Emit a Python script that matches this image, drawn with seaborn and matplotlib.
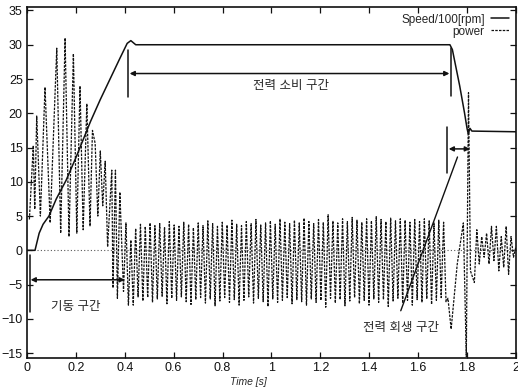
import numpy as np
import pandas as pd
import matplotlib
matplotlib.use('Agg')
import matplotlib.pyplot as plt
import seaborn as sns

# speed / 100 [rpm]
speed_t = [0.0, 0.033, 0.05, 0.066, 0.09, 0.12, 0.16, 0.2, 0.26, 0.3, 0.34, 0.38,
           0.41, 0.425, 0.445, 1.73, 1.74, 1.77, 1.79, 1.80, 1.805, 1.812, 1.82, 2.0]
speed_v = [0.0, 0.0, 2.5, 3.8, 5.0, 7.5, 10.2, 13.5, 18.8, 22.0, 25.0, 28.0,
           30.2, 30.6, 30.0, 30.0, 29.3, 24.0, 20.0, 17.8, 17.0, 17.8, 17.4, 17.3]

# power - start-up part
power_start_t = [0.010, 0.026, 0.032, 0.040, 0.055, 0.074, 0.095, 0.122, 0.138, 0.156,
                 0.172, 0.190, 0.204, 0.217, 0.230, 0.245, 0.258, 0.268, 0.279, 0.290,
                 0.300, 0.310, 0.320, 0.330, 0.347, 0.352, 0.362, 0.370, 0.380, 0.395,
                 0.405, 0.415]
power_start_v = [4.5, 15.3, 6.0, 19.6, 5.0, 23.8, 4.0, 29.5, 2.5, 31.0,
                 2.0, 28.7, 2.5, 24.0, 3.0, 21.4, 3.5, 17.5, 15.6, 5.0,
                 14.5, 6.5, 13.0, 0.5, 11.7, -5.5, 11.7, -7.0, 8.5, -6.0,
                 4.0, -8.0]

# power - constant speed part (alternating peak / trough, evenly spaced in time)
power_mid_v = [1.5, -8.0, 3.2, -6.8, 3.8, -7.4, 3.5, -6.9, 4.0, -7.6, 3.6, -7.1, 3.9, -6.7,
               3.4, -7.8, 4.2, -7.0, 3.7, -7.3, 3.5, -6.8, 4.1, -7.5, 3.8, -7.9, 3.3, -7.2,
               4.0, -6.9, 3.6, -7.7, 4.3, -7.1, 3.9, -8.1, 3.5, -7.4, 4.1, -6.9, 3.7, -7.6,
               4.4, -7.2, 3.8, -8.0, 3.6, -7.3, 4.2, -6.8, 3.9, -7.7, 4.5, -7.0, 3.7, -7.5,
               4.0, -8.2, 4.3, -7.1, 3.8, -7.6, 4.6, -7.3, 4.1, -6.9, 3.9, -7.8, 4.4, -7.2,
               4.0, -7.5, 4.7, -8.0, 4.2, -7.1, 3.9, -7.6, 4.5, -7.3, 4.1, -8.3, 5.2, -7.0,
               4.3, -7.7, 4.0, -7.2, 4.6, -8.1, 4.2, -7.4, 4.8, -6.9, 4.4, -7.8, 4.1, -7.3,
               4.6, -8.0, 4.3, -7.1, 4.9, -7.6, 4.5, -7.2, 4.2, -8.2, 4.7, -7.4, 4.3, -7.0,
               4.6, -7.7, 4.4, -7.3, 4.1, -8.0, 4.5, -7.2, 4.2, -7.6, 4.6, -7.1, 4.3, -7.9,
               4.0, -7.3, 4.4, -6.9, 4.1, -7.5]
power_mid_t0, power_mid_t1 = 0.425, 1.714

# power - braking part
power_end_t = [1.722, 1.735, 1.76, 1.785, 1.797, 1.806, 1.814, 1.83, 1.84, 1.85, 1.86,
               1.87, 1.88, 1.89, 1.90, 1.91, 1.92, 1.93, 1.94, 1.95, 1.96, 1.97, 1.98,
               1.99, 2.0]
power_end_v = [-7.0, -11.5, -2.0, 4.0, -15.5, 23.0, -3.0, -4.7, 3.0, -2.0, 2.0,
               -1.0, 2.5, -2.0, 3.5, -1.5, 3.5, -3.0, 2.0, -2.5, 3.5, -3.5, 2.0,
               -1.0, 0.5]

xtick_vals = [0, 0.2, 0.4, 0.6, 0.8, 1.0, 1.2, 1.4, 1.6, 1.8, 2.0]
xtick_labels = ['0', '0.2', '0.4', '0.6', '0.8', '1', '1.2', '1.4', '1.6', '1.8', '2']
ytick_vals = [-15, -10, -5, 0, 5, 10, 15, 20, 25, 30, 35]

power_mid_t = list(np.linspace(power_mid_t0, power_mid_t1, len(power_mid_v)))
power = pd.DataFrame({'t': power_start_t + power_mid_t + power_end_t,
                      'v': power_start_v + power_mid_v + power_end_v})
speed = pd.DataFrame({'t': speed_t, 'v': speed_v})

sns.set_theme(style='ticks')
plt.rcParams['font.family'] = ['Liberation Sans', 'Noto Sans CJK KR', 'DejaVu Sans']

fig = plt.figure(figsize=(5.18, 3.92), dpi=100)
ax = fig.add_axes([0.052, 0.087, 0.944, 0.895])

ax.axhline(0, color='0.35', lw=0.8, ls=(0, (1, 2)))
sns.lineplot(data=speed, x='t', y='v', ax=ax, color='#111111', lw=1.1,
             estimator=None, sort=False, label='Speed/100[rpm]')
sns.lineplot(data=power, x='t', y='v', ax=ax, color='#111111', lw=0.9,
             estimator=None, sort=False, ls=(0, (2, 1)), label='power')

ax.set_xlim(0, 2)
ax.set_ylim(-15.7, 35.5)
ax.set_xticks(xtick_vals)
ax.set_xticklabels(xtick_labels)
ax.set_yticks(ytick_vals)
ax.tick_params(direction='in', top=True, right=True, length=4, width=0.9,
               labelsize=9, pad=3, colors='#111111')
for s in ax.spines.values():
    s.set_linewidth(1.2)
    s.set_color('#111111')
ax.set_xlabel('Time [s]', fontsize=7.5, style='italic', labelpad=1)
ax.xaxis.set_label_coords(0.453, -0.055)
ax.set_ylabel('')

leg = ax.legend(loc='upper right', frameon=False, markerfirst=False, fontsize=8.5,
                handlelength=1.6, borderaxespad=0.15, labelspacing=0.0, handletextpad=0.5)
leg._legend_box._children[-1]._children[0].align = 'right'

ap = dict(arrowstyle='<|-|>', color='#111111', lw=1.1, mutation_scale=7, shrinkA=0, shrinkB=0)
kw = dict(color='#111111', lw=1.1)

# start-up section
ax.plot([0.012, 0.012], [-0.7, -9.0], **kw)
ax.annotate('', xy=(0.015, -4.3), xytext=(0.4, -4.3), arrowprops=ap)
ax.text(0.2, -8.3, '기동 구간', ha='center', va='center', fontsize=9)

# power consumption section
ax.plot([0.415, 0.415], [29.3, 22.4], **kw)
ax.plot([1.733, 1.733], [29.5, 22.5], **kw)
ax.annotate('', xy=(0.42, 25.8), xytext=(1.728, 25.8), arrowprops=ap)
ax.text(1.08, 24.0, '전력 소비 구간', ha='center', va='center', fontsize=9)

# regeneration section
ax.plot([1.72, 1.72], [18.0, 11.3], **kw)
ax.annotate('', xy=(1.725, 14.8), xytext=(1.812, 14.8), arrowprops=ap)
ax.annotate('', xy=(1.765, 14.0), xytext=(1.525, -9.2),
            arrowprops=dict(arrowstyle='-', color='#111111', lw=1.0))
ax.text(1.53, -11.3, '전력 회생 구간', ha='center', va='center', fontsize=9)

fig.savefig('out.png', dpi=100)
